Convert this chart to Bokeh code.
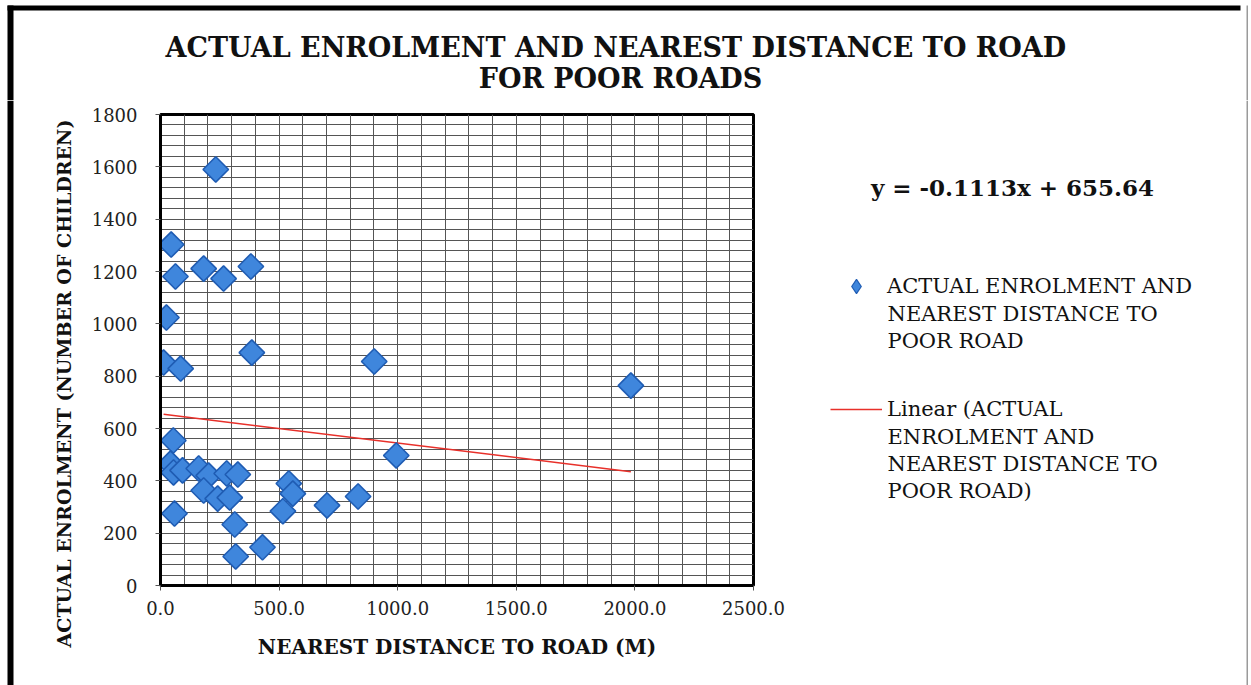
from bokeh.plotting import figure
from bokeh.models import (Range1d, FixedTicker, PrintfTickFormatter, Label,
                          Legend, LegendItem, BoxAnnotation)
from bokeh.layouts import column, row
from bokeh.embed import file_html
from bokeh.resources import INLINE
import numpy as np

# ---- data ----
distance_m = [233, 45, 63, 182, 266, 381, 25, 13, 85, 385, 901, 1983, 54, 994,
              42, 55, 93, 161, 203, 279, 326, 182, 241, 292, 541, 558, 516,
              702, 833, 59, 313, 317, 430]
enrolment = [1590, 1303, 1181, 1211, 1173, 1219, 1024, 852, 829, 890, 856, 764,
             554, 497, 466, 432, 440, 447, 420, 428, 424, 363, 332, 336, 390,
             351, 284, 306, 340, 275, 233, 111, 146]
trend_slope = -0.1113
trend_intercept = 655.64
x_ticks = [0, 500, 1000, 1500, 2000, 2500]
y_ticks = [0, 200, 400, 600, 800, 1000, 1200, 1400, 1600, 1800]
title_lines = ["ACTUAL  ENROLMENT AND NEAREST DISTANCE TO ROAD", "FOR POOR ROADS"]
y_title = "ACTUAL ENROLMENT (NUMBER OF CHILDREN)"
x_title = "NEAREST DISTANCE TO ROAD (M)"
equation_text = "y = -0.1113x + 655.64"
series_label_lines = ["ACTUAL ENROLMENT AND", "NEAREST DISTANCE TO", "POOR ROAD"]
trend_label_lines = ["Linear (ACTUAL", "ENROLMENT AND", "NEAREST DISTANCE TO",
                     "POOR ROAD)"]

SERIF = "DejaVu Serif"
MARK_FILL, MARK_LINE = "#3f86dc", "#1f5cb3"
TREND_COLOR = "#e8302a"

# canvas geometry (px)
W, H = 1251, 685
TOP_H = 100                  # title strip height
LEFT_W = 80                  # strip holding the y title
FL, FT, FR, FB = 160, 114, 753, 585   # plot frame left / top / right / bottom
P_RIGHT = 45                 # room right of the frame for the last tick label
MID_H = H - TOP_H


def blank(width, height):
    f = figure(width=width, height=height, output_backend="svg",
               toolbar_location=None, x_axis_type=None, y_axis_type=None,
               x_range=Range1d(0, 1), y_range=Range1d(0, 1),
               min_border=0, min_border_left=0, min_border_right=0,
               min_border_top=0, min_border_bottom=0)
    f.outline_line_color = None
    f.background_fill_color = "white"
    f.border_fill_color = "white"
    return f


def box(fig, left, right, top, bottom, color):
    fig.add_layout(BoxAnnotation(left=left, right=right, top=top, bottom=bottom,
                                 left_units="screen", right_units="screen",
                                 top_units="screen", bottom_units="screen",
                                 fill_color=color, fill_alpha=1, line_color=None))


def text(fig, x, y, s, size, bold=False, angle=0.0, align="center"):
    fig.add_layout(Label(x=x, y=y, x_units="screen", y_units="screen", text=s,
                         angle=angle, text_align=align, text_baseline="middle",
                         text_font=SERIF, text_font_size=size,
                         text_font_style="bold" if bold else "normal",
                         text_color="#111111"))

# ---------------- title strip ----------------
top = blank(W, TOP_H)
ty = lambda cy: TOP_H - cy
text(top, 620, ty(47), title_lines[0], "27px", bold=True)
text(top, 620, ty(78), title_lines[1], "27px", bold=True)
box(top, 7, 1240, ty(5), ty(10), "black")
box(top, 7, 13, ty(5), 0, "black")
box(top, 1246, 1247.5, ty(5), 0, "#9a9a9a")

my = lambda cy: H - cy   # screen y inside the lower strips

# ---------------- left strip (y title) ----------------
left = blank(LEFT_W, MID_H)
text(left, 63, my(383), y_title, "19px", bold=True, angle=np.pi / 2)
box(left, 7, 13, MID_H, 0, "black")

# ---------------- main plot ----------------
p = figure(width=FR - LEFT_W + P_RIGHT, height=MID_H, output_backend="svg",
           toolbar_location=None,
           x_range=Range1d(0, 2500), y_range=Range1d(0, 1800),
           min_border_left=FL - LEFT_W, min_border_right=P_RIGHT,
           min_border_top=FT - TOP_H, min_border_bottom=H - FB)
p.background_fill_color = "white"
p.border_fill_color = "white"
p.outline_line_color = "black"
p.outline_line_width = 3

p.xgrid.ticker = FixedTicker(ticks=list(range(0, 2501, 100)))
p.ygrid.ticker = FixedTicker(ticks=list(range(0, 1801, 40)))
for g in (p.xgrid, p.ygrid):
    g.grid_line_color = "#555555"
    g.grid_line_width = 1

p.xaxis.ticker = FixedTicker(ticks=x_ticks)
p.yaxis.ticker = FixedTicker(ticks=y_ticks)
p.xaxis.formatter = PrintfTickFormatter(format="%.1f")
for ax in (p.xaxis, p.yaxis):
    ax.axis_line_color = "black"
    ax.axis_line_width = 3
    ax.major_tick_line_color = "#555555"
    ax.major_tick_in = 0
    ax.major_tick_out = 5
    ax.minor_tick_line_color = None
    ax.major_label_text_font = SERIF
    ax.major_label_text_font_size = "18px"
    ax.major_label_text_color = "#222222"
p.xaxis.major_label_standoff = 10
p.yaxis.major_label_standoff = 18

p.xaxis.axis_label = x_title
p.xaxis.axis_label_text_font = SERIF
p.xaxis.axis_label_text_font_style = "bold"
p.xaxis.axis_label_text_font_size = "20px"
p.xaxis.axis_label_text_color = "#111111"
p.xaxis.axis_label_standoff = 17

xs_line = np.array([min(distance_m), max(distance_m)], dtype=float)
ys_line = trend_slope * xs_line + trend_intercept
p.line(xs_line, ys_line, line_color=TREND_COLOR, line_width=1.5)
p.scatter(distance_m, enrolment, marker="square", angle=np.pi / 4,
          size=18, fill_color=MARK_FILL, line_color=MARK_LINE, line_width=1.6)

# ---------------- right strip (equation + legend) ----------------
RX0 = FR + P_RIGHT
right = blank(W - RX0, MID_H)
rx = lambda cx: cx - RX0
text(right, rx(1012), my(187), equation_text, "23px", bold=True)
box(right, rx(1246), rx(1247.5), MID_H, 0, "#9a9a9a")

# legend swatches: renderers holding one NaN point, so only their legend glyphs show
leg_pts = right.scatter([np.nan], [np.nan], marker="diamond", size=20,
                        fill_color=MARK_FILL, line_color=MARK_LINE, line_width=1.2)
leg_line = right.line([np.nan, np.nan], [np.nan, np.nan], line_color=TREND_COLOR,
                      line_width=1.5)

GLYPH_H = 36
LINE_STEP = 27
LABEL_X = 887


def legend_entry(renderer, lines, first_cy):
    lg = Legend(items=[LegendItem(label=lines[0], renderers=[renderer])],
                location=(rx(830), my(first_cy + GLYPH_H / 2)))
    lg.border_line_color = None
    lg.background_fill_alpha = 0
    lg.padding = 0
    lg.margin = 0
    lg.glyph_width = 52
    lg.glyph_height = GLYPH_H
    lg.label_height = GLYPH_H
    lg.label_standoff = 5
    lg.label_text_font = SERIF
    lg.label_text_font_size = "21px"
    lg.label_text_color = "#111111"
    right.add_layout(lg, "center")
    for i, s in enumerate(lines[1:], start=1):
        text(right, rx(LABEL_X), my(first_cy + i * LINE_STEP), s, "21px",
             align="left")


legend_entry(leg_pts, series_label_lines, 286)
legend_entry(leg_line, trend_label_lines, 409)

layout = column(top, row(column(left), p, column(right), spacing=0), spacing=0)
open("out.html", "w").write(file_html(layout, INLINE))
